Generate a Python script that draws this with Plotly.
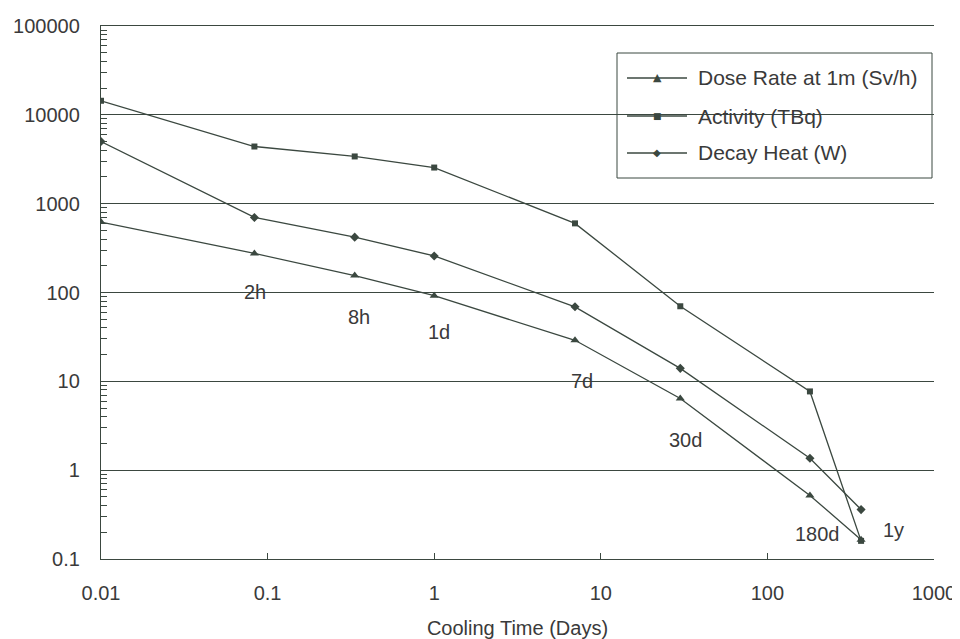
import numpy as np
import plotly.graph_objects as go

# ---- data ----
cooling_days = [0.01, 1/12, 1/3, 1, 7, 30, 180, 365]
dose_rate = [620, 275, 155, 92, 29, 6.4, 0.52, 0.165]
activity = [14400, 4400, 3400, 2550, 600, 70, 7.7, 0.16]
decay_heat = [5000, 700, 420, 258, 69, 14, 1.36, 0.36]

series_names = ["Dose Rate at 1m (Sv/h)", "Activity (TBq)", "Decay Heat (W)"]
series_symbols = ["triangle-up", "square", "diamond"]
legend_glyphs = ["\u25B2", "\u25A0", "\u25C6"]

point_labels = ["2h", "8h", "1d", "7d", "30d", "180d", "1y"]
label_x = [0.084, 0.355, 1.07, 7.7, 32.3, 201, 568]
label_y = [101, 53, 36, 10, 2.17, 0.19, 0.212]

y_ticks = [0.1, 1, 10, 100, 1000, 10000, 100000]
y_ticktext = ["0.1", "1", "10", "100", "1000", "10000", "100000"]
x_ticks = [0.01, 0.1, 1, 10, 100, 1000]
x_ticktext = ["0.01", "0.1", "1", "10", "100", "1000"]

LINE = "#3b4840"
TEXT = "#3a3a3a"
FONT = "Liberation Sans, Arial, sans-serif"

# the page body adds an 8px offset, so the figure is sized to fill the rest of the window
W, H = 952, 631
ML, MR, MT, MB = 93, 26, 18, 80
PW, PH = W - ML - MR, H - MT - MB
OFF = 8


def px_x(p):
    return (p - OFF - ML) / PW


def px_y(p):
    return (H - MB - (p - OFF)) / PH


fig = go.Figure()
marker_sizes = [8, 6, 7]
for name, vals, sym, ms in zip(series_names, [dose_rate, activity, decay_heat], series_symbols, marker_sizes):
    fig.add_trace(go.Scatter(
        x=cooling_days, y=vals, mode="lines+markers", name=name,
        line=dict(color=LINE, width=1.3),
        marker=dict(symbol=sym, size=ms, color=LINE),
        showlegend=False,
    ))

for lab, lx, ly in zip(point_labels, label_x, label_y):
    fig.add_annotation(x=np.log10(lx), y=np.log10(ly), text=lab, showarrow=False,
                       font=dict(size=20, color=TEXT, family=FONT))

# ---- legend box drawn by hand (to match the long legend lines) ----
fig.add_shape(type="rect", xref="paper", yref="paper",
              x0=px_x(617), x1=px_x(932), y0=px_y(178), y1=px_y(53),
              line=dict(color=LINE, width=1), fillcolor="white", layer="between")
row_y = [78, 116, 153]
glyph_sizes = [11, 9, 10]
for name, glyph, ry, gs in zip(series_names, legend_glyphs, row_y, glyph_sizes):
    fig.add_shape(type="line", xref="paper", yref="paper",
                  x0=px_x(627), x1=px_x(687), y0=px_y(ry), y1=px_y(ry),
                  line=dict(color=LINE, width=1.3), layer="above")
    fig.add_annotation(xref="paper", yref="paper", x=px_x(657), y=px_y(ry),
                       text=glyph, showarrow=False, xanchor="center", yanchor="middle",
                       font=dict(size=gs, color=LINE, family="DejaVu Sans"))
    fig.add_annotation(xref="paper", yref="paper", x=px_x(696), y=px_y(ry),
                       text=name, showarrow=False, xanchor="left", yanchor="middle",
                       font=dict(size=21, color=TEXT, family=FONT))

fig.update_layout(
    width=W, height=H,
    margin=dict(l=ML, r=MR, t=MT, b=MB),
    paper_bgcolor="white", plot_bgcolor="white",
    font=dict(family=FONT, size=20, color=TEXT),
    showlegend=False,
)

fig.update_xaxes(
    type="log", range=[-2, 3], automargin=False,
    tickvals=x_ticks, ticktext=x_ticktext,
    ticks="inside", ticklen=6, tickcolor=LINE, tickwidth=1,
    showline=True, linecolor=LINE, linewidth=1.3, mirror=True,
    showgrid=False, zeroline=False,
    ticklabelstandoff=16,
    tickfont=dict(size=20, color=TEXT),
    title=dict(text="Cooling Time (Days)", font=dict(size=20, color=TEXT), standoff=18),
)
fig.update_yaxes(
    type="log", range=[-1, 5], automargin=False,
    tickvals=y_ticks, ticktext=y_ticktext,
    ticks="inside", ticklen=0, tickcolor=LINE,
    showline=True, linecolor=LINE, linewidth=1.3,
    showgrid=True, gridcolor=LINE, gridwidth=1.1,
    zeroline=False,
    ticklabelstandoff=16,
    tickfont=dict(size=20, color=TEXT),
    minor=dict(ticks="inside", ticklen=6, tickcolor=LINE, dtick="D1", showgrid=False),
)

fig.write_html("out.html")
